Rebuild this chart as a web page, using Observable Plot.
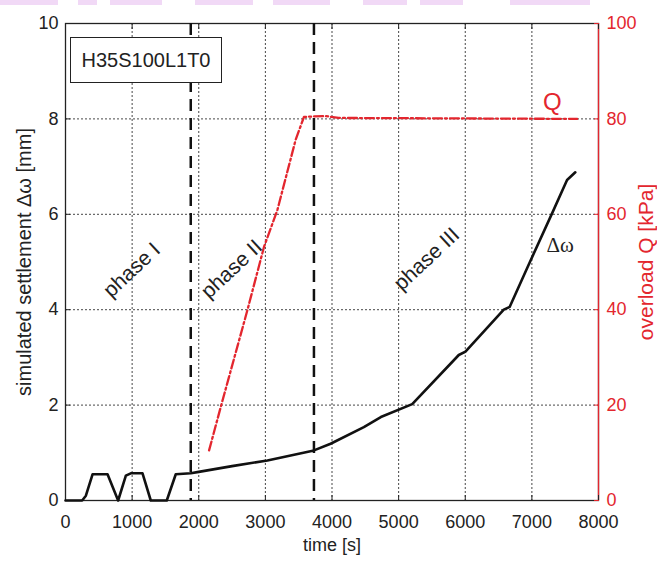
<!DOCTYPE html>
<html><head><meta charset="utf-8">
<script src="https://cdn.jsdelivr.net/npm/d3@7"></script>
<script src="https://cdn.jsdelivr.net/npm/@observablehq/plot@0.6"></script>
<style>
body{margin:0;background:#fff;}
#wrap{position:relative;width:657px;height:562px;overflow:hidden;}
.wm{position:absolute;top:0;height:5px;background:#f1d9f6;}
#box{position:absolute;left:70px;top:37px;width:152px;height:46px;border:1.5px solid #222;background:#fff;
 font-family:"Liberation Sans",Arial,sans-serif;font-size:20px;color:#222;
 display:flex;align-items:center;justify-content:center;box-sizing:border-box;}
</style></head><body><div id="wrap"></div>
<script>
// ---- data ----
const settleTime = [0,250,306,406,631,790,906,980,1156,1280,1520,1655,1880,2000,2500,3030,3729,3979,4478,4733,5204,5903,6003,6578,6668,6928,7303,7528,7652];
const settleMm   = [0,0,0.1,0.55,0.55,0,0.52,0.57,0.57,0,0,0.55,0.57,0.6,0.72,0.84,1.05,1.19,1.54,1.75,2.02,3.05,3.12,4.0,4.06,4.87,6.02,6.72,6.88];
const qTime = [2155,2330,2730,2980,3180,3454,3579,3700,3900,4100,7680];
const qKpa  = [10.5,19.6,39.9,53.2,60.9,75.6,80.4,80.5,80.6,80.2,80];
const phaseBounds = [1880,3729];
const xTicks = [0,1000,2000,3000,4000,5000,6000,7000,8000];
const yTicks = [0,2,4,6,8,10];
const qTickValues = [0,20,40,60,80,100];
const phaseLabels = ["phase I","phase II","phase III"];
const phaseLabelX = [995,2494,5420];
const phaseLabelY = [4.83,4.85,5.06];
const boxLabel = "H35S100L1T0";
// watermark strip pieces (x start, x end)
const wmStart = [0,78,110,195,273,363,420,510];
const wmEnd   = [58,97,162,253,330,407,463,590];

const settle = settleTime.map((t,i)=>({t, v: settleMm[i]}));
const overload = qTime.map((t,i)=>({t, q: qKpa[i]}));
const phases = phaseLabels.map((s,i)=>({s, x: phaseLabelX[i], y: phaseLabelY[i]}));
const RED = "#e3262e";
const SANS = '"Liberation Sans",Arial,sans-serif';

const plot = Plot.plot({
  width: 657, height: 562,
  marginLeft: 65, marginRight: 59, marginTop: 23, marginBottom: 62,
  style: {fontFamily: SANS, fontSize: "18px", background: "transparent", color: "#222"},
  x: {domain: [0,8000]},
  y: {domain: [0,10]},
  marks: [
    Plot.gridX(xTicks, {stroke: "#333", strokeOpacity: 0.9, strokeDasharray: "2,2", strokeWidth: 1}),
    Plot.gridY(yTicks, {stroke: "#333", strokeOpacity: 0.9, strokeDasharray: "2,2", strokeWidth: 1}),
    Plot.frame({stroke: "#222", strokeWidth: 1.3}),
    Plot.ruleX([8000], {stroke: RED, strokeWidth: 1.3}),
    Plot.axisX(xTicks, {anchor: "bottom", tickSize: -5, tickPadding: 20, fontSize: 18, label: null, tickFormat: d => String(d)}),
    Plot.axisX(xTicks, {anchor: "top", tickSize: -5, tickFormat: () => "", label: null}),
    Plot.axisY(yTicks, {anchor: "left", tickSize: -5, tickPadding: 12, fontSize: 18, label: null, tickFormat: d => String(d)}),
    Plot.axisY(yTicks, {anchor: "right", tickSize: -5, tickPadding: 13, fontSize: 18, label: null,
      tickFormat: (d) => String(qTickValues[yTicks.indexOf(d)]), stroke: RED, fill: RED}),
    Plot.text(["time [s]"], {frameAnchor: "bottom", dy: 50, fontSize: 18, fill: "#222"}),
    Plot.text(["simulated settlement Δω [mm]"], {frameAnchor: "left", textAnchor: "middle", dx: -41, rotate: -90, fontSize: 20, fill: "#222"}),
    Plot.text(["overload Q [kPa]"], {frameAnchor: "right", textAnchor: "middle", dx: 48, rotate: -90, fontSize: 21, fill: RED}),
    Plot.ruleX(phaseBounds, {stroke: "#111", strokeWidth: 2.5, strokeDasharray: "12,7"}),
    Plot.line(overload, {x: "t", y: d => d.q / 10, stroke: RED, strokeWidth: 2.3, strokeDasharray: "9,3,2,3"}),
    Plot.line(settle, {x: "t", y: "v", stroke: "#111", strokeWidth: 2.6, strokeLinejoin: "round"}),
    Plot.text(phases, {x: "x", y: "y", text: "s", rotate: -43, fontSize: 21, fill: "#222"}),
    Plot.text(["Δω"], {x: [7425], y: [5.36], fontSize: 21, fontFamily: '"Liberation Serif",serif', fill: "#222"}),
    Plot.text(["Q"], {x: [7306], y: [8.34], fontSize: 24, fill: RED})
  ]
});
const wrap = document.getElementById("wrap");
wmStart.forEach((s,i)=>{const d=document.createElement("div");d.className="wm";d.style.left=s+"px";d.style.width=(wmEnd[i]-s)+"px";wrap.appendChild(d);});
wrap.appendChild(plot);
plot.style.position="absolute"; plot.style.left="0"; plot.style.top="0";
const box = document.createElement("div"); box.id="box"; box.textContent = boxLabel; wrap.appendChild(box);
</script>
</body></html>
